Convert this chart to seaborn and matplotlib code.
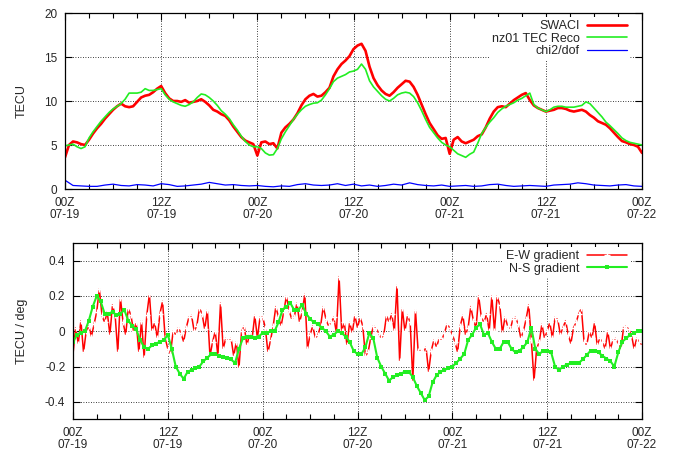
import numpy as np
import matplotlib
matplotlib.use("Agg")
import matplotlib.pyplot as plt
import seaborn as sns
from matplotlib.ticker import MultipleLocator, FixedLocator, FixedFormatter

# ---------------------------------------------------------------------------
# Data: hours since 00Z 07-19, three days of TEC and TEC gradients
# ---------------------------------------------------------------------------
tick_hours = [0, 12, 24, 36, 48, 60, 72]
tick_labels = ["00Z\n07-19", "12Z\n07-19", "00Z\n07-20", "12Z\n07-20",
               "00Z\n07-21", "12Z\n07-21", "00Z\n07-22"]

# SWACI vertical TEC, half-hourly samples (TECU)
swaci = [
    3.6, 5.0, 5.4, 5.3, 5.1, 5.0, 5.6, 6.3, 6.9, 7.4, 8.0, 8.5,
    9.0, 9.4, 9.7, 9.4, 9.3, 9.4, 9.9, 10.4, 10.6, 10.7, 11.0, 11.4,
    11.7, 10.9, 10.3, 10.0, 10.0, 9.9, 10.1, 9.8, 9.9, 10.0, 10.2, 9.9,
    9.5, 9.0, 8.8, 8.5, 8.3, 7.8, 7.1, 6.5, 5.9, 5.5, 5.3, 5.1,
    3.8, 5.3, 5.4, 5.1, 5.2, 4.6, 6.4, 7.0, 7.4, 7.9, 8.6, 9.5,
    10.2, 10.6, 10.8, 10.5, 10.6, 11.0, 11.5, 12.8, 13.6, 14.2, 14.6, 15.1,
    15.9, 16.3, 16.5, 15.7, 13.9, 12.6, 11.8, 11.2, 10.8, 10.6, 11.0, 11.5,
    11.9, 12.3, 12.2, 11.6, 10.7, 9.6, 8.5, 7.5, 6.8, 6.1, 5.7, 5.8,
    4.0, 5.6, 5.9, 5.4, 5.2, 5.4, 5.6, 6.0, 6.2, 7.0, 8.0, 8.8,
    9.3, 9.4, 9.3, 9.7, 10.1, 10.4, 10.7, 10.9, 10.1, 9.5, 9.2, 9.0,
    8.8, 8.9, 9.0, 9.2, 9.2, 9.1, 8.9, 8.8, 8.9, 9.0, 8.8, 8.4,
    8.1, 7.7, 7.5, 7.3, 6.9, 6.4, 5.9, 5.45, 5.3, 5.1, 5.0, 4.8,
    4.1,
]

# nz01 TEC reconstruction, half-hourly samples (TECU)
nz01_reco = [
    4.9, 5.0, 5.1, 4.8, 4.6, 4.8, 5.8, 6.5, 7.1, 7.7, 8.2, 8.7,
    9.1, 9.4, 9.7, 10.2, 10.9, 10.9, 10.9, 11.0, 11.4, 11.2, 11.2, 11.3,
    11.4, 10.7, 10.2, 9.9, 9.7, 9.5, 9.4, 9.6, 9.9, 10.4, 10.8, 10.7,
    10.4, 10.0, 9.5, 8.9, 8.5, 8.0, 7.3, 6.7, 6.0, 5.4, 5.0, 4.8,
    4.8, 4.6, 4.1, 3.85, 3.9, 4.6, 5.7, 6.5, 7.2, 7.9, 8.5, 9.0,
    9.4, 9.6, 9.75, 9.8, 10.1, 10.7, 11.4, 12.2, 12.6, 12.8, 13.0, 13.3,
    13.4, 13.6, 14.2, 13.6, 12.3, 11.6, 11.1, 10.6, 10.2, 10.0, 10.3, 10.7,
    10.9, 11.0, 10.9, 10.5, 9.8, 8.9, 7.9, 7.0, 6.4, 5.8, 5.3, 5.0,
    4.8, 4.4, 4.0, 3.8, 3.6, 3.95, 4.2, 5.2, 6.3, 7.0, 7.6, 8.1,
    8.7, 9.1, 9.4, 9.6, 9.8, 10.1, 10.3, 10.6, 10.9, 9.6, 9.2, 9.0,
    8.8, 9.0, 9.3, 9.4, 9.4, 9.3, 9.3, 9.3, 9.4, 9.5, 9.9, 9.7,
    9.2, 8.7, 8.2, 7.6, 7.2, 6.75, 6.3, 5.8, 5.5, 5.3, 5.2, 5.1,
    5.0,
]

# fit quality, hourly samples
chi2_dof = [
    1.0, 0.4, 0.35, 0.3, 0.3, 0.45, 0.55, 0.4, 0.35, 0.5, 0.45, 0.35,
    0.6, 0.5, 0.3, 0.35, 0.45, 0.55, 0.75, 0.6, 0.45, 0.5, 0.4, 0.35,
    0.4, 0.3, 0.25, 0.35, 0.3, 0.5, 0.6, 0.45, 0.4, 0.45, 0.6, 0.4,
    0.55, 0.35, 0.45, 0.3, 0.4, 0.55, 0.45, 0.7, 0.5, 0.4, 0.35, 0.45,
    0.3, 0.35, 0.4, 0.3, 0.35, 0.5, 0.55, 0.4, 0.3, 0.35, 0.4, 0.35,
    0.3, 0.45, 0.5, 0.55, 0.7, 0.6, 0.45, 0.4, 0.35, 0.45, 0.5, 0.35,
    0.3,
]

# E-W gradient, 20-minute samples (TECU / deg)
ew_gradient = [
    -0.13, 0.02, -0.07, 0.06, -0.12, 0.0, 0.03, -0.03, 0.04, 0.11, 0.24, 0.09,
    0.05, 0.11, -0.02, 0.15, 0.09, -0.12, 0.19, 0.05, -0.02, 0.13, 0.09, 0.0,
    0.05, -0.12, 0.06, -0.15, 0.09, 0.21, 0.0, 0.05, -0.04, 0.1, 0.17, -0.04,
    -0.1, -0.13, 0.0, -0.02, 0.02, -0.01, -0.06, 0.02, 0.08, 0.09, 0.0, 0.03,
    0.13, 0.1, 0.01, 0.12, -0.14, -0.06, 0.0, -0.14, 0.16, -0.1, -0.04, -0.05,
    -0.04, -0.14, -0.06, -0.21, 0.0, 0.03, -0.08, -0.02, -0.04, 0.09, -0.04, 0.08,
    0.08, 0.02, -0.12, -0.05, 0.03, 0.14, 0.08, 0.03, 0.11, 0.2, 0.12, 0.07,
    0.08, 0.16, 0.05, 0.11, 0.21, -0.1, -0.02, 0.03, -0.04, -0.02, 0.03, 0.14,
    0.07, 0.03, 0.05, 0.08, -0.01, 0.31, 0.0, 0.05, -0.08, 0.05, -0.01, 0.09,
    0.02, 0.08, 0.03, -0.14, -0.12, -0.04, 0.03, 0.02, -0.01, -0.04, -0.02, 0.09,
    0.05, 0.1, 0.0, 0.26, -0.17, 0.13, 0.0, 0.09, 0.05, -0.28, 0.12, -0.11,
    -0.11, -0.12, -0.09, -0.23, -0.11, -0.05, -0.09, -0.04, -0.05, -0.01, 0.04, 0.02,
    -0.02, -0.06, -0.12, 0.03, 0.09, -0.02, 0.02, 0.14, 0.06, 0.02, 0.2, 0.08,
    0.05, 0.1, 0.0, 0.2, 0.0, 0.2, 0.15, -0.01, 0.08, 0.03, 0.01, 0.07,
    0.08, 0.04, -0.04, 0.0, 0.07, 0.15, -0.05, -0.28, -0.1, -0.06, 0.04, -0.04,
    0.0, 0.05, -0.04, 0.08, 0.07, -0.02, 0.02, 0.06, -0.02, -0.07, 0.02, 0.05,
    0.1, 0.13, -0.06, -0.08, 0.0, -0.04, 0.05, -0.08, -0.04, -0.06, -0.1, 0.0,
    -0.1, -0.05, -0.04, -0.07, -0.1, 0.02, 0.03, 0.01, -0.02, -0.1, -0.04, -0.06,
    -0.08,
]

# N-S gradient, half-hourly samples (TECU / deg)
ns_gradient = [
    -0.06, -0.02, -0.01, 0.0, 0.06, 0.14, 0.2, 0.17, 0.1, 0.1, 0.11, 0.09,
    0.1, 0.12, 0.06, 0.03, 0.01, -0.05, -0.09, -0.1, -0.08, -0.07, -0.06, -0.05,
    -0.02, -0.1, -0.2, -0.24, -0.27, -0.23, -0.22, -0.21, -0.2, -0.17, -0.15, -0.13,
    -0.13, -0.14, -0.145, -0.15, -0.16, -0.18, -0.1, -0.04, -0.03, -0.03, -0.04, -0.03,
    -0.01, -0.01, 0.0, 0.0, 0.05, 0.12, 0.14, 0.16, 0.12, 0.12, 0.15, 0.1,
    0.07, 0.05, 0.04, 0.02, 0.0, -0.03, -0.02, 0.0, -0.01, -0.03, -0.06, -0.11,
    -0.13, -0.13, -0.09, -0.01, -0.04, -0.15, -0.2, -0.24, -0.28, -0.26, -0.25, -0.24,
    -0.23, -0.23, -0.26, -0.31, -0.35, -0.39, -0.37, -0.29, -0.25, -0.23, -0.22, -0.21,
    -0.2, -0.18, -0.155, -0.13, -0.05, -0.02, 0.02, 0.04, -0.02, -0.01, -0.06, -0.1,
    -0.1, -0.06, -0.06, -0.1, -0.12, -0.11, -0.09, -0.06, 0.02, -0.1, -0.13, -0.11,
    -0.11, -0.12, -0.2, -0.22, -0.2, -0.19, -0.18, -0.18, -0.18, -0.16, -0.135, -0.11,
    -0.11, -0.12, -0.14, -0.155, -0.17, -0.2, -0.12, -0.06, -0.04, -0.02, -0.01, 0.0,
    0.0,
]

# ---------------------------------------------------------------------------
# Style
# ---------------------------------------------------------------------------
sns.set_style("ticks")
plt.rcParams["font.family"] = ["Liberation Sans", "DejaVu Sans"]
plt.rcParams["axes.unicode_minus"] = False

RED = "#ff0000"
GREEN = "#22ee22"
BLUE = "#0000ff"
FS = 8.5

W, H = 682, 451
fig = plt.figure(figsize=(W / 100, H / 100), dpi=100)
ax1 = fig.add_axes([65 / W, 1 - 189 / H, 577 / W, 176 / H])
ax2 = fig.add_axes([73 / W, 1 - 419.4 / H, 569 / W, 176.3 / H])

# ---------------------------------------------------------------------------
# Top panel: TEC
# ---------------------------------------------------------------------------
t_tec = np.linspace(0, 72, len(swaci))
t_chi = np.linspace(0, 72, len(chi2_dof))
sns.lineplot(x=t_tec, y=swaci, ax=ax1, color=RED, lw=1.9, label="SWACI")
sns.lineplot(x=t_tec, y=nz01_reco, ax=ax1, color=GREEN, lw=1.2, label="nz01 TEC Reco")
sns.lineplot(x=t_chi, y=chi2_dof, ax=ax1, color=BLUE, lw=0.9, label="chi2/dof")
ax1.set_ylim(0, 20)
ax1.yaxis.set_major_locator(MultipleLocator(5))
ax1.set_ylabel("TECU", fontsize=FS + 0.5)
ax1.yaxis.set_label_coords(-(65 - 28) / 577, 0.5)

# ---------------------------------------------------------------------------
# Bottom panel: gradients
# ---------------------------------------------------------------------------
t_ew = np.linspace(0, 72, len(ew_gradient))
t_ns = np.linspace(0, 72, len(ns_gradient))
sns.lineplot(x=t_ew, y=ew_gradient, ax=ax2, color=RED, lw=1.1,
             marker="+", markersize=4.5, markeredgewidth=1.0, label="E-W gradient")
sns.lineplot(x=t_ns, y=ns_gradient, ax=ax2, color=GREEN, lw=1.5,
             marker="s", markersize=3.3, markeredgewidth=0, label="N-S gradient")
ax2.set_ylim(-0.5, 0.5)
yt = [-0.4, -0.2, 0.0, 0.2, 0.4]
ax2.yaxis.set_major_locator(FixedLocator(yt))
ax2.yaxis.set_major_formatter(FixedFormatter(["-0.4", "-0.2", "0", "0.2", "0.4"]))
ax2.set_ylabel("TECU / deg", fontsize=FS + 0.5)
ax2.yaxis.set_label_coords(-(73 - 28) / 569, 0.5)

# ---------------------------------------------------------------------------
# Shared axis cosmetics
# ---------------------------------------------------------------------------
for ax, width in ((ax1, 577), (ax2, 569)):
    ax.set_xlim(0, 72)
    ax.xaxis.set_major_locator(FixedLocator(tick_hours))
    ax.xaxis.set_major_formatter(FixedFormatter(tick_labels))
    ax.xaxis.set_minor_locator(MultipleLocator(3))
    ax.set_xlabel("")
    ax.grid(True, which="major", color="black", linestyle=(0, (1, 2)), lw=0.6)
    ax.tick_params(which="both", direction="in", top=True, right=True,
                   color="black", labelsize=FS, width=0.8)
    ax.tick_params(which="major", length=5)
    ax.tick_params(axis="x", which="major", pad=5.5)
    ax.tick_params(axis="y", which="major", pad=5.5)
    ax.tick_params(which="minor", length=3.5)
    for lab in ax.get_xticklabels():
        lab.set_linespacing(1.05)
    for sp in ax.spines.values():
        sp.set_visible(True)
        sp.set_color("black")
        sp.set_linewidth(0.9)
    leg = ax.legend(loc="upper right", bbox_to_anchor=(1 - 8 / width, 1.0),
                    markerfirst=False, fontsize=FS + 0.5,
                    handlelength=3.2, handletextpad=0.6, labelspacing=0.05,
                    borderpad=0.25, borderaxespad=0.3, numpoints=1,
                    frameon=True, fancybox=False, framealpha=1.0,
                    facecolor="white", edgecolor="none")
    for txt in leg.get_texts():
        txt.set_horizontalalignment("right")

fig.savefig("out.png", dpi=100)
